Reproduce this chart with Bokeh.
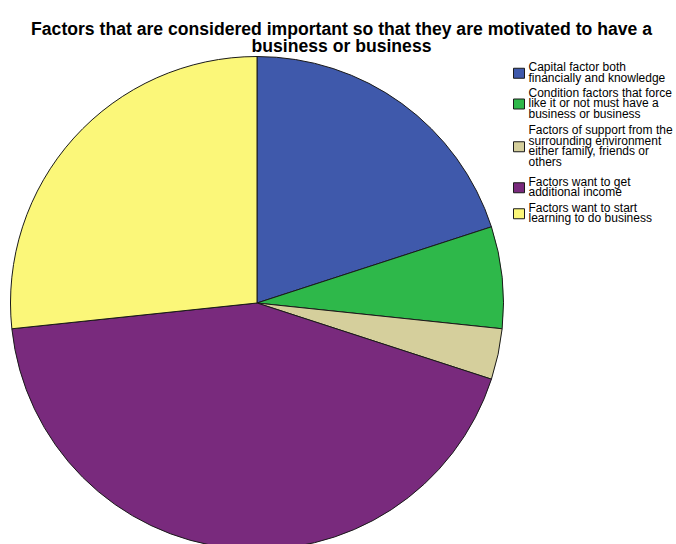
import math
from bokeh.plotting import figure
from bokeh.models import Range1d, ColumnDataSource
from bokeh.core.properties import value
from bokeh.embed import file_html
from bokeh.resources import INLINE

# ---- data ----
categories = [
    "Capital factor both financially and knowledge",
    "Condition factors that force like it or not must have a business or business",
    "Factors of support from the surrounding environment either family, friends or others",
    "Factors want to get additional income",
    "Factors want to start learning to do business",
]
legend_lines = [
    ["Capital factor both", "financially and knowledge"],
    ["Condition factors that force", "like it or not must have a", "business or business"],
    ["Factors of support from the", "surrounding environment", "either family, friends or", "others"],
    ["Factors want to get", "additional income"],
    ["Factors want to start", "learning to do business"],
]
counts = [6, 2, 1, 13, 8]
colors = ["#3F59AB", "#2EB84A", "#D5CF9C", "#792A7D", "#FBF779"]
title_lines = [
    "Factors that are considered important so that they are motivated to have a",
    "business or business",
]

# ---- layout ----
W, H = 676, 544
def sy(y):  # screen y -> data y
    return H - y

p = figure(width=W, height=H, x_range=Range1d(0, W), y_range=Range1d(0, H),
           output_backend="svg", toolbar_location=None, min_border=0,
           x_axis_location=None, y_axis_location=None)
p.grid.visible = False
p.outline_line_color = None
p.background_fill_color = "white"
p.border_fill_color = "white"

# pie
cx, cy, r = 256.5, 302.5, 246.5
total = float(sum(counts))
starts, ends = [], []
cum = 0.0
for c in counts:
    starts.append(math.pi / 2 - 2 * math.pi * cum / total)
    cum += c
    ends.append(math.pi / 2 - 2 * math.pi * cum / total)
src = ColumnDataSource(dict(start=starts, end=ends, color=colors, cat=categories))
p.wedge(x=cx, y=sy(cy), radius=r, start_angle="start", end_angle="end",
        direction="clock", fill_color="color", line_color="#1a1a1a", line_width=1,
        source=src)

# title
title_y = [28, 45]
for t, ty in zip(title_lines, title_y):
    p.text(x=[341], y=[sy(ty)], text=[t], text_align="center", text_baseline="alphabetic",
           text_font=value("Liberation Sans"), text_font_style="bold",
           text_font_size="17.6px", text_color="black")

# legend
first_centers = [66.5, 92, 129.5, 181, 207]
line_h = 10.5
tx, tys, tt = [], [], []
sqx, sqy, sqc = [], [], []
for lines, c0, col in zip(legend_lines, first_centers, colors):
    for j, ln in enumerate(lines):
        tx.append(528)
        tys.append(sy(c0 + j * line_h))
        tt.append(ln)
    mid = c0 + (len(lines) - 1) * line_h / 2 + 1
    sqx.append(518.5)
    sqy.append(sy(mid))
    sqc.append(col)
p.rect(x=sqx, y=sqy, width=11, height=10, fill_color=sqc, line_color="#1a1a1a", line_width=1)
p.text(x=tx, y=tys, text=tt, text_align="left", text_baseline="middle",
       text_font=value("Liberation Sans"), text_font_size="12px", text_color="black")

open("out.html", "w").write(file_html(p, INLINE))
